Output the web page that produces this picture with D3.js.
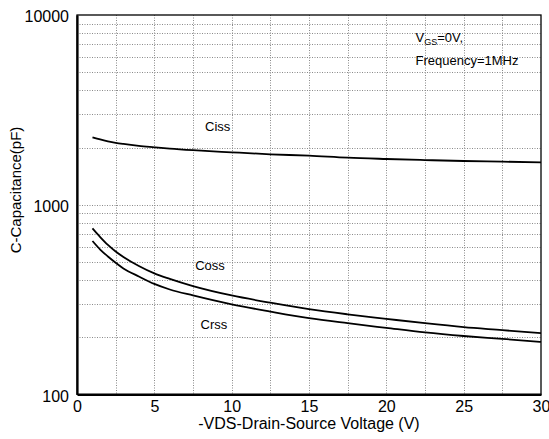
<!DOCTYPE html>
<html>
<head>
<meta charset="utf-8">
<script src="https://cdn.jsdelivr.net/npm/d3@7"></script>
<style>
  body { margin: 0; background: #fff; }
  text { font-family: "Liberation Sans", Arial, sans-serif; fill: #000; }
</style>
</head>
<body>
<svg id="chart" width="549" height="439"></svg>
<script>
// values
const vds = [1, 1.5, 2, 2.5, 3, 4, 5, 6, 7.5, 10, 12.5, 15, 17.5, 20, 22.5, 25, 27.5, 30];
const ciss = [2265, 2206, 2158, 2119, 2089, 2041, 2007, 1975, 1937, 1888, 1843, 1812, 1768, 1741, 1719, 1699, 1685, 1672];
const coss = [750, 675, 613, 566, 530, 475, 434, 406, 372, 332, 304, 281, 264, 250, 237, 226, 218, 210];
const crss = [643, 580, 533, 494, 461, 418, 382, 357, 332, 298, 273, 252, 237, 224, 212, 203, 196, 189];

const xTicks = [0, 5, 10, 15, 20, 25, 30];
const yTicks = [100, 1000, 10000];
const xGrid = d3.range(2.5, 30, 2.5);
const yGrid = [100, 1000].flatMap(d => d3.range(2, 10).map(k => k * d)).concat([1000]);

const seriesLabels = [
  { name: "Ciss", x: 9.1, y: 2455 },
  { name: "Coss", x: 8.6, y: 452 },
  { name: "Crss", x: 8.85, y: 221 },
];

const width = 549;
const height = 439;
const margin = { top: 15, right: 8, bottom: 44.7, left: 77 };

const svg = d3.select("#chart");

const x = d3.scaleLinear()
  .domain([0, 30])
  .range([margin.left, width - margin.right]);

const y = d3.scaleLog()
  .domain([100, 10000])
  .range([height - margin.bottom, margin.top]);

// grid
const grid = svg.append("g")
  .attr("stroke", "#8a8a8a")
  .attr("stroke-width", 1)
  .attr("stroke-dasharray", "1,1.5");

grid.selectAll(".vgrid")
  .data(xGrid)
  .enter()
  .append("line")
  .attr("class", "vgrid")
  .attr("x1", d => Math.round(x(d)) + 0.5)
  .attr("x2", d => Math.round(x(d)) + 0.5)
  .attr("y1", y(10000))
  .attr("y2", y(100));

grid.selectAll(".hgrid")
  .data(yGrid)
  .enter()
  .append("line")
  .attr("class", "hgrid")
  .attr("x1", x(0))
  .attr("x2", x(30))
  .attr("y1", d => Math.round(y(d)) + 0.5)
  .attr("y2", d => Math.round(y(d)) + 0.5);

// frame
svg.append("rect")
  .attr("x", x(0))
  .attr("y", y(10000))
  .attr("width", x(30) - x(0))
  .attr("height", y(100) - y(10000))
  .attr("fill", "none")
  .attr("stroke", "#000")
  .attr("stroke-width", 1.3);

// axes
const xAxis = svg.append("g")
  .attr("transform", `translate(0,${y(100)})`)
  .call(d3.axisBottom(x).tickValues(xTicks).tickSize(0).tickPadding(6).tickFormat(d3.format("d")));

const yAxis = svg.append("g")
  .attr("transform", `translate(${x(0)},0)`)
  .call(d3.axisLeft(y).tickValues(yTicks).tickSize(0).tickPadding(8).tickFormat(d3.format("d")));

[xAxis, yAxis].forEach(axis => {
  axis.select(".domain")
    .attr("stroke", "#000")
    .attr("stroke-width", 2.2);
  axis.selectAll("text")
    .attr("font-family", "Liberation Sans, Arial, sans-serif")
    .attr("fill", "#000")
    .style("font-size", "16px");
});
yAxis.selectAll("text").attr("dy", "0.43em");

// curves
const line = d3.line()
  .x(d => x(d[0]))
  .y(d => y(d[1]))
  .curve(d3.curveMonotoneX);

[ciss, coss, crss].forEach(values => {
  svg.append("path")
    .datum(vds.map((v, i) => [v, values[i]]))
    .attr("fill", "none")
    .attr("stroke", "#000")
    .attr("stroke-width", 1.8)
    .attr("d", line);
});

// series labels
svg.selectAll(".series-label")
  .data(seriesLabels)
  .enter()
  .append("text")
  .attr("class", "series-label")
  .attr("x", d => x(d.x))
  .attr("y", d => y(d.y))
  .attr("text-anchor", "middle")
  .style("font-size", "13px")
  .text(d => d.name);

// test conditions
const cond = svg.append("text")
  .attr("x", 415.5)
  .attr("y", 42)
  .style("font-size", "13px");
cond.append("tspan").text("V");
cond.append("tspan").attr("dy", 3).style("font-size", "9px").text("GS");
cond.append("tspan").attr("dy", -3).text("=0V,");

svg.append("text")
  .attr("x", 415.5)
  .attr("y", 65)
  .style("font-size", "13px")
  .text("Frequency=1MHz");

// axis titles
svg.append("text")
  .attr("x", (x(0) + x(30)) / 2)
  .attr("y", 429)
  .attr("text-anchor", "middle")
  .style("font-size", "16px")
  .text("-VDS-Drain-Source Voltage (V)");

svg.append("text")
  .attr("transform", "translate(21,190) rotate(-90)")
  .attr("text-anchor", "middle")
  .style("font-size", "15px")
  .text("C-Capacitance(pF)");
</script>
</body>
</html>
